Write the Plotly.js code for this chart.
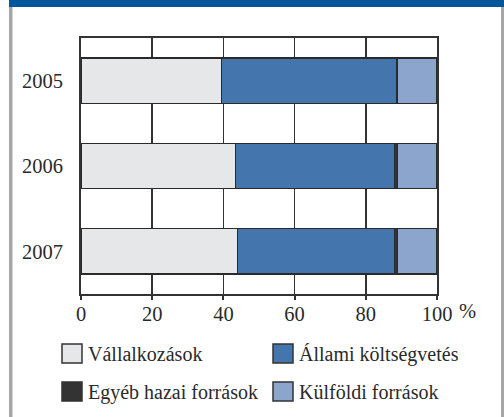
<!DOCTYPE html>
<html>
<head>
<meta charset="utf-8">
<script src="https://cdn.plot.ly/plotly-3.0.1.min.js"></script>
<style>html,body{margin:0;padding:0;background:#fff;}#chart{width:504px;height:417px;}</style>
</head>
<body>
<div id="chart"></div>
<script>
// ---- data ----
const years = ["2005", "2006", "2007"];
const seriesNames = ["Vállalkozások", "Állami költségvetés", "Egyéb hazai források", "Külföldi források"];
const vallalkozasok = [39.5, 43.4, 44.0];
const allami = [49.2, 44.6, 44.0];
const egyeb = [0.0, 0.9, 0.9];
const kulfoldi = [11.3, 11.1, 11.1];
const xTickVals = [0, 20, 40, 60, 80, 100];
const unitLabel = "%";

const colors = ["#e6e7e8", "#4575ad", "#333333", "#8ba5cc"];
const values = [vallalkozasok, allami, egyeb, kulfoldi];

const W = 504, H = 417;
const M = {l: 81, r: 67, t: 38, b: 123};
const pw = W - M.l - M.r, ph = H - M.t - M.b;
const px = x => (x - M.l) / pw;
const py = y => 1 - (y - M.t) / ph;
const FONT = "Liberation Serif, Times New Roman, serif";
const FS = 20.5;
const LFS = 20;
const TXT = "#2a2a2a";

const traces = values.map((v, i) => ({
  type: "bar",
  orientation: "h",
  y: years,
  x: v,
  name: seriesNames[i],
  marker: {color: colors[i], line: {color: "#2a2a2a", width: 1.5}},
  showlegend: false,
  hoverinfo: "x+name"
}));

const shapes = [];
const annotations = [];
// frame decorations
shapes.push({type: "rect", xref: "paper", yref: "paper", x0: px(9), x1: px(504), y0: py(0), y1: py(7), fillcolor: "#02579b", line: {width: 0}, layer: "above"});
shapes.push({type: "rect", xref: "paper", yref: "paper", x0: px(9), x1: px(12.5), y0: py(7), y1: py(417), fillcolor: "#a6a6a6", line: {width: 0}});
shapes.push({type: "rect", xref: "paper", yref: "paper", x0: px(501), x1: px(504), y0: py(7), y1: py(417), fillcolor: "#a6a6a6", line: {width: 0}});

// manual legend
const legPos = [[62, 344], [273, 344], [62, 382], [273, 382]];
seriesNames.forEach((n, i) => {
  const [x, y] = legPos[i];
  shapes.push({type: "rect", xref: "paper", yref: "paper", x0: px(x), x1: px(x + 20), y0: py(y), y1: py(y + 19), fillcolor: colors[i], line: {color: "#333", width: 1.5}});
  annotations.push({xref: "paper", yref: "paper", x: px(x + 24), y: py(y + 10), text: n, showarrow: false, xanchor: "left", yanchor: "middle", font: {family: FONT, size: LFS, color: TXT}});
});
annotations.push({xref: "paper", yref: "paper", x: px(467), y: py(311), text: unitLabel, showarrow: false, xanchor: "center", yanchor: "middle", font: {family: FONT, size: FS, color: TXT}});

const layout = {
  width: W, height: H,
  margin: M,
  paper_bgcolor: "#ffffff",
  plot_bgcolor: "#ffffff",
  barmode: "stack",
  bargap: 0.47,
  font: {family: FONT, size: FS, color: TXT},
  xaxis: {
    range: [0, 100], tickvals: xTickVals, ticktext: xTickVals.map(String),
    showgrid: true, gridcolor: "#333", gridwidth: 1.5,
    showline: true, linecolor: "#333", linewidth: 2, mirror: true,
    ticks: "outside", ticklen: 4, tickwidth: 2, tickcolor: "#333",
    ticklabelstandoff: -4,
    zeroline: false, fixedrange: true
  },
  yaxis: {
    type: "category", categoryorder: "array", categoryarray: years,
    autorange: "reversed",
    showgrid: false,
    showline: true, linecolor: "#333", linewidth: 2, mirror: true,
    ticks: "", ticklabelstandoff: 12, fixedrange: true
  },
  shapes: shapes,
  annotations: annotations
};

Plotly.newPlot("chart", traces, layout, {displayModeBar: false, staticPlot: true});
</script>
</body>
</html>
